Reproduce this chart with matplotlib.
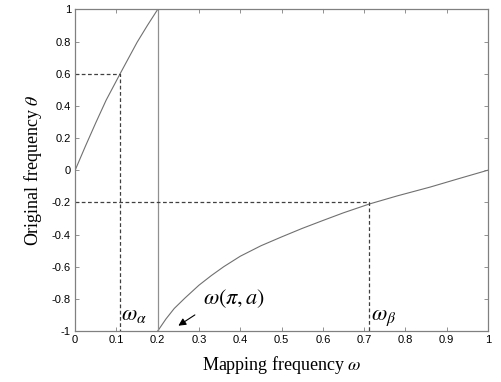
import matplotlib.pyplot as plt
import numpy as np

plt.rcParams['mathtext.fontset'] = 'stix'

# left branch (theta rises 0 -> 1)
w_left = [0.0, 0.025, 0.05, 0.075, 0.109, 0.13, 0.15, 0.175, 0.2]
th_left = [0.0, 0.15, 0.295, 0.435, 0.60, 0.70, 0.795, 0.90, 1.0]

# right branch (theta rises -1 -> 0)
w_right = [0.2, 0.22, 0.24, 0.266, 0.30, 0.33, 0.36, 0.40, 0.45, 0.50,
           0.55, 0.60, 0.65, 0.713, 0.78, 0.86, 0.93, 1.0]
th_right = [-1.0, -0.925, -0.86, -0.795, -0.715, -0.655, -0.60, -0.535,
            -0.47, -0.415, -0.362, -0.313, -0.265, -0.21, -0.16, -0.105,
            -0.052, 0.0]

w_alpha, th_alpha = 0.109, 0.6
w_beta, th_beta = 0.713, -0.2
w_jump = 0.2

fig = plt.figure(figsize=(5.01, 3.82), dpi=100)
ax = fig.add_axes([0.150, 0.1335, 0.824, 0.842])

ax.plot(w_left, th_left, color='#707070', lw=0.8)
ax.plot(w_right, th_right, color='#707070', lw=0.8)
ax.plot([w_jump, w_jump], [-1, 1], color='#909090', lw=0.9)

dash = dict(color='#404040', lw=0.9, ls=(0, (3, 2)))
ax.plot([0, w_alpha, w_alpha], [th_alpha, th_alpha, -1], **dash)
ax.plot([0, w_beta, w_beta], [th_beta, th_beta, -1], **dash)

ax.text(0.112, -0.93, r'$\omega_\alpha$', fontsize=16)
ax.text(0.717, -0.93, r'$\omega_\beta$', fontsize=16)
ax.text(0.31, -0.83, r'$\omega(\pi,a)$', fontsize=16)
ax.annotate('', xy=(0.250, -0.967), xytext=(0.290, -0.90),
            arrowprops=dict(arrowstyle='-|>', color='black', lw=0.8,
                            mutation_scale=11, shrinkA=0, shrinkB=0))

ax.set_xlim(0, 1)
ax.set_ylim(-1, 1)
ax.set_xticks(np.arange(0, 1.01, 0.1))
ax.set_xticklabels(['0', '0.1', '0.2', '0.3', '0.4', '0.5', '0.6', '0.7',
                    '0.8', '0.9', '1'], family='Liberation Sans')
ax.set_yticks(np.arange(-1, 1.01, 0.2))
ax.set_yticklabels(['-1', '-0.8', '-0.6', '-0.4', '-0.2', '0', '0.2', '0.4',
                    '0.6', '0.8', '1'], family='Liberation Sans')
ax.tick_params(direction='in', top=True, right=True, length=3, width=0.6,
               color='#808080', labelsize=8, pad=3)
for s in ax.spines.values():
    s.set_color('#808080')
    s.set_linewidth(0.9)

ax.set_xlabel(r'Mapping frequency $\omega$', family='Liberation Serif',
              fontsize=13, labelpad=6)
ax.set_ylabel(r'Original frequency $\theta$', family='Liberation Serif',
              fontsize=13, labelpad=6)

fig.savefig('out.png', dpi=100)
